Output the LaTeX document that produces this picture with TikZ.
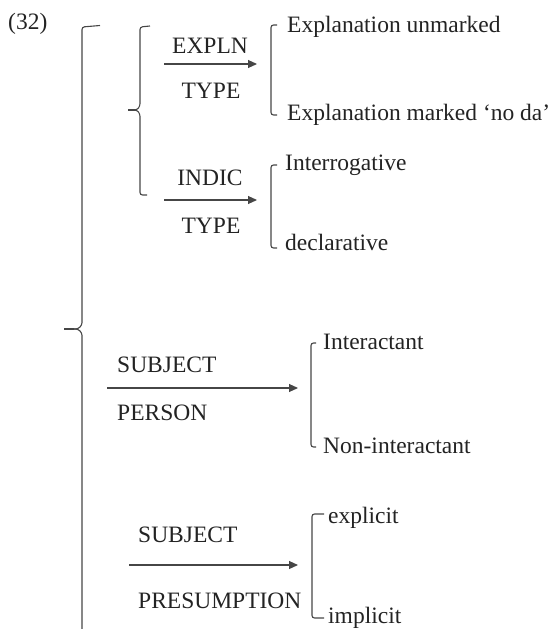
\documentclass[tikz,border=0pt]{standalone}
\usepackage{fontspec}
\setmainfont{Liberation Serif}
\usetikzlibrary{arrows.meta}
\definecolor{ink}{RGB}{35,35,35}
\definecolor{rulecol}{RGB}{70,70,70}
\begin{document}
\begin{tikzpicture}[x=1pt,y=-1pt,
  lbl/.style={inner sep=0pt, text=ink, font=\fontsize{23.5}{28}\selectfont},
  brk/.style={draw=rulecol, line width=1.1pt, rounded corners=2.5pt},
  cusp/.style={draw=rulecol, line width=1.8pt},
  arr/.style={draw=rulecol, line width=1.1pt, -{Triangle[length=9pt,width=8pt]}}]
\useasboundingbox (0,0) rectangle (549,629);

% example number
\node[lbl, anchor=base west] (num) at (8,29) {(32)};

% outer brace (runs past the lower edge)
\draw[brk] (100,25.5) -- (82,27) -- (82,325) -- (78,329) -- (64,329);
\draw[brk] (64,329) -- (78,329) -- (82,333) -- (82,640);
\draw[cusp] (64,329) -- (74,329);

% inner brace over the two TYPE systems
\draw[brk] (150,26) -- (140,27) -- (140,106) -- (137,110) -- (128,110);
\draw[brk] (128,110) -- (137,110) -- (140,114) -- (140,195) -- (147,195);
\draw[cusp] (128,110) -- (135,110);

% EXPLN TYPE system
\node[lbl, anchor=base] (expln) at (210,53) {EXPLN};
\node[lbl, anchor=base] (etype) at (211,98) {TYPE};
\coordinate (e0) at (164,64);
\coordinate (e1) at (257,64);
\draw[arr] (e0) -- (e1);
\draw[brk] (277,25) -- (271,25) -- (271,115) -- (277,115);
\node[lbl, anchor=base west] (eun) at (287,32) {Explanation unmarked};
\node[lbl, anchor=base west] (emk) at (287,120) {Explanation marked ‘no da’};

% INDIC TYPE system
\node[lbl, anchor=base] (indic) at (210,185) {INDIC};
\node[lbl, anchor=base] (itype) at (211,233) {TYPE};
\coordinate (i0) at (164,200);
\coordinate (i1) at (257,200);
\draw[arr] (i0) -- (i1);
\draw[brk] (277,165) -- (271,165) -- (271,248) -- (277,248);
\node[lbl, anchor=base west] (int) at (285,170) {Interrogative};
\node[lbl, anchor=base west] (dec) at (285,250) {declarative};

% SUBJECT PERSON system
\node[lbl, anchor=base west] (subj1) at (117,372) {SUBJECT};
\node[lbl, anchor=base west] (pers) at (117,420) {PERSON};
\coordinate (p0) at (107,388);
\coordinate (p1) at (298,388);
\draw[arr] (p0) -- (p1);
\draw[brk] (316,343) -- (311,343) -- (311,447) -- (316,447);
\node[lbl, anchor=base west] (inter) at (323,349) {Interactant};
\node[lbl, anchor=base west] (noninter) at (323,453) {Non-interactant};

% SUBJECT PRESUMPTION system
\node[lbl, anchor=base west] (subj2) at (138,542) {SUBJECT};
\node[lbl, anchor=base west] (pres) at (138,608) {PRESUMPTION};
\coordinate (s0) at (129,565);
\coordinate (s1) at (298,565);
\draw[arr] (s0) -- (s1);
\draw[brk] (324,514) -- (312,514) -- (312,618) -- (324,618);
\node[lbl, anchor=base west] (expl) at (328,523) {explicit};
\node[lbl, anchor=base west] (impl) at (328,623) {implicit};
\end{tikzpicture}
\end{document}
